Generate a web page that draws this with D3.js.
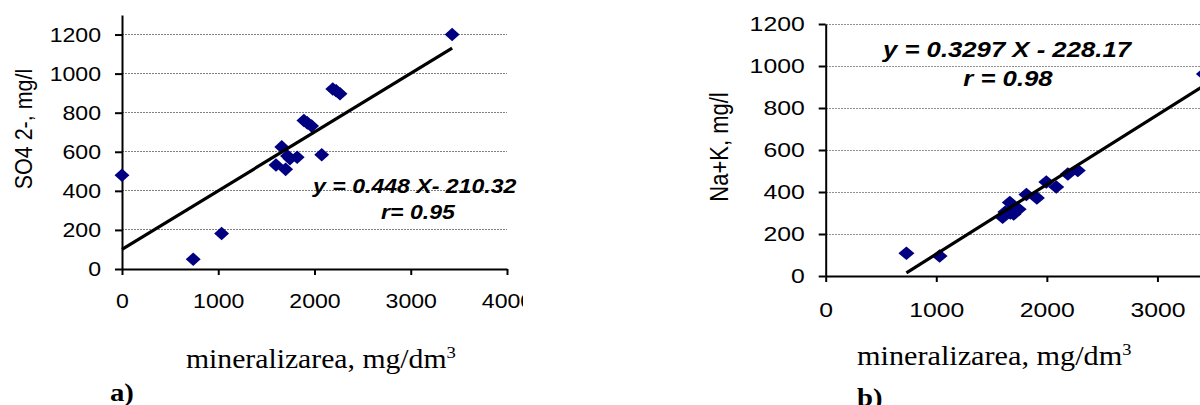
<!DOCTYPE html>
<html><head><meta charset="utf-8">
<script src="https://cdn.jsdelivr.net/npm/d3@7"></script>
<style>html,body{margin:0;padding:0;background:#fff;overflow:hidden;} svg{display:block;}</style>
</head><body>
<script>
// ---- Chart a) SO4 2- vs mineralizarea ----
const mineralA = [0, 740, 1035, 1600, 1660, 1700, 1720, 1745, 1820, 1890, 1925, 1970, 2075, 2190, 2225, 2265, 3430];
const sulfateA = [480, 50, 182, 532, 625, 510, 578, 565, 572, 760, 748, 732, 585, 921, 912, 897, 1200];
const trendAx = [0, 3430];
const trendAy = [100, 1130];
const eqA = ["y = 0.448 X- 210.32", "r= 0.95"];
const yTicksA = [0, 200, 400, 600, 800, 1000, 1200];
const xTicksA = [0, 1000, 2000, 3000, 4000];

// ---- Chart b) Na+K vs mineralizarea ----
const mineralB = [730, 1030, 1600, 1625, 1665, 1670, 1700, 1745, 1815, 1910, 1995, 2085, 2190, 2280, 3420];
const naKB = [108, 95, 280, 305, 350, 300, 295, 318, 388, 372, 448, 424, 486, 502, 962];
const trendBx = [730, 3400];
const trendBy = [15, 900];
const eqB = ["y = 0.3297 X - 228.17", "r = 0.98"];
const yTicksB = [0, 200, 400, 600, 800, 1000, 1200];
const xTicksB = [0, 1000, 2000, 3000];

const xTitle = "mineralizarea, mg/dm";
const yTitleA = "SO4 2-, mg/l";
const yTitleB = "Na+K, mg/l";

const W = 1200, H = 405;
const svg = d3.select("body").append("svg").attr("width", W).attr("height", H);
const SANS = "'Liberation Sans', Arial, sans-serif";
const SERIF = "'Liberation Serif', 'Times New Roman', serif";

function stretch(sel, sx) {
  sel.each(function () {
    const t = d3.select(this);
    const x = +t.attr("x") || 0;
    t.attr("transform", `translate(${x},0) scale(${sx},1) translate(${-x},0)`);
  });
}

function drawChart(cfg) {
  const g = svg.append("g");
  if (cfg.clip) {
    svg.append("clipPath").attr("id", cfg.id + "clip").append("rect")
      .attr("x", cfg.clip[0]).attr("y", 0).attr("width", cfg.clip[1] - cfg.clip[0]).attr("height", H);
    g.attr("clip-path", `url(#${cfg.id}clip)`);
  }
  const x = d3.scaleLinear().domain(cfg.xDomain).range(cfg.xRange);
  const y = d3.scaleLinear().domain(cfg.yDomain).range(cfg.yRange);

  // gridlines
  g.append("g").selectAll("line").data(cfg.yTicks.filter(v => v > 0)).join("line")
    .attr("x1", x(cfg.xDomain[0])).attr("x2", x(cfg.xDomain[1]))
    .attr("y1", d => y(d)).attr("y2", d => y(d))
    .attr("stroke", cfg.gridColor).attr("stroke-width", 1).attr("stroke-dasharray", "2,1")
    .attr("shape-rendering", "crispEdges");

  // axes
  const ax = g.append("g").attr("transform", `translate(${x(0)},0)`)
    .call(d3.axisLeft(y).tickValues(cfg.yTicks).tickFormat(d3.format("d")).tickSize(7).tickPadding(14).tickSizeOuter(0));
  const bx = g.append("g").attr("transform", `translate(0,${y(0)})`)
    .call(d3.axisBottom(x).tickValues(cfg.xTicks).tickFormat(d3.format("d")).tickSize(6).tickPadding(cfg.xPad).tickSizeOuter(0));
  [ax, bx].forEach(a => {
    a.selectAll("path.domain, line").attr("stroke", "#000").attr("stroke-width", 2);
    a.selectAll("text").attr("fill", "#000").style("font-family", SANS).style("font-size", "21px");
    stretch(a.selectAll("text"), cfg.sx);
  });

  // points
  const pts = cfg.xs.map((v, i) => [v, cfg.ys[i]]);
  const diamond = d3.symbol().type(d3.symbolSquare).size(92)();
  g.append("g").selectAll("path").data(pts).join("path")
    .attr("d", diamond)
    .attr("transform", d => `translate(${x(d[0])},${y(d[1])}) scale(${cfg.sx},1) rotate(45)`)
    .attr("fill", "#000080");

  // trend line
  const tl = cfg.tx.map((v, i) => [v, cfg.ty[i]]);
  g.append("path").datum(tl)
    .attr("d", d3.line().x(d => x(d[0])).y(d => y(d[1])))
    .attr("stroke", "#000").attr("stroke-width", 3.2).attr("fill", "none");

  // equation
  const eq = g.append("g").style("font-family", SANS).style("font-size", cfg.eqSize + "px")
    .style("font-weight", "bold").style("font-style", "italic");
  const e1 = eq.append("text").attr("x", cfg.eq1[0]).attr("y", cfg.eq1[1]).text(cfg.eq[0]);
  const e2 = eq.append("text").attr("x", cfg.eq2[0]).attr("y", cfg.eq2[1]).attr("text-anchor", "middle").text(cfg.eq[1]);
  stretch(e1, cfg.sx); stretch(e2, cfg.sx);

  // y title
  svg.append("text").attr("transform", `translate(${cfg.yt[0]},${cfg.yt[1]}) scale(${cfg.sx},1) rotate(-90)`)
    .attr("text-anchor", "middle").style("font-family", SANS).style("font-size", cfg.ytSize + "px")
    .text(cfg.yTitle);

  // x title
  const xt = svg.append("text").attr("x", cfg.xt[0]).attr("y", cfg.xt[1])
    .style("font-family", SERIF).style("font-size", cfg.xtSize + "px");
  xt.append("tspan").text(xTitle);
  xt.append("tspan").attr("dy", -10).style("font-size", Math.round(cfg.xtSize * 0.62) + "px").text("3");
  stretch(xt, cfg.tsx);

  // panel label
  const pl = svg.append("text").attr("x", cfg.pl[0]).attr("y", cfg.pl[1])
    .style("font-family", SERIF).style("font-size", "25px").style("font-weight", "bold").text(cfg.label);
  stretch(pl, 1.15);
}

drawChart({
  id: "a", clip: [0, 523], sx: 1.1, tsx: 1.1,
  xDomain: [0, 4000], xRange: [122, 507],
  yDomain: [0, 1300], yRange: [269, 15],
  yTicks: yTicksA, xTicks: xTicksA, xPad: 18, gridColor: "#808080",
  xs: mineralA, ys: sulfateA, tx: trendAx, ty: trendAy,
  eq: eqA, eq1: [313, 193], eq2: [418, 219], eqSize: 21,
  yTitle: yTitleA, yt: [32, 129], ytSize: 21.5,
  xt: [186, 368], xtSize: 27,
  label: "a)", pl: [110, 401]
});

drawChart({
  id: "b", clip: null, sx: 1.18, tsx: 1.08,
  xDomain: [0, 4000], xRange: [825.7, 1268],
  yDomain: [0, 1200], yRange: [276, 24],
  yTicks: yTicksB, xTicks: xTicksB, xPad: 20, gridColor: "#909090",
  xs: mineralB, ys: naKB, tx: trendBx, ty: trendBy,
  eq: eqB, eq1: [883, 57], eq2: [1008, 86], eqSize: 21.8,
  yTitle: yTitleB, yt: [728, 147], ytSize: 22,
  xt: [857, 365], xtSize: 28,
  label: "b)", pl: [857, 406]
});
</script>
</body></html>
